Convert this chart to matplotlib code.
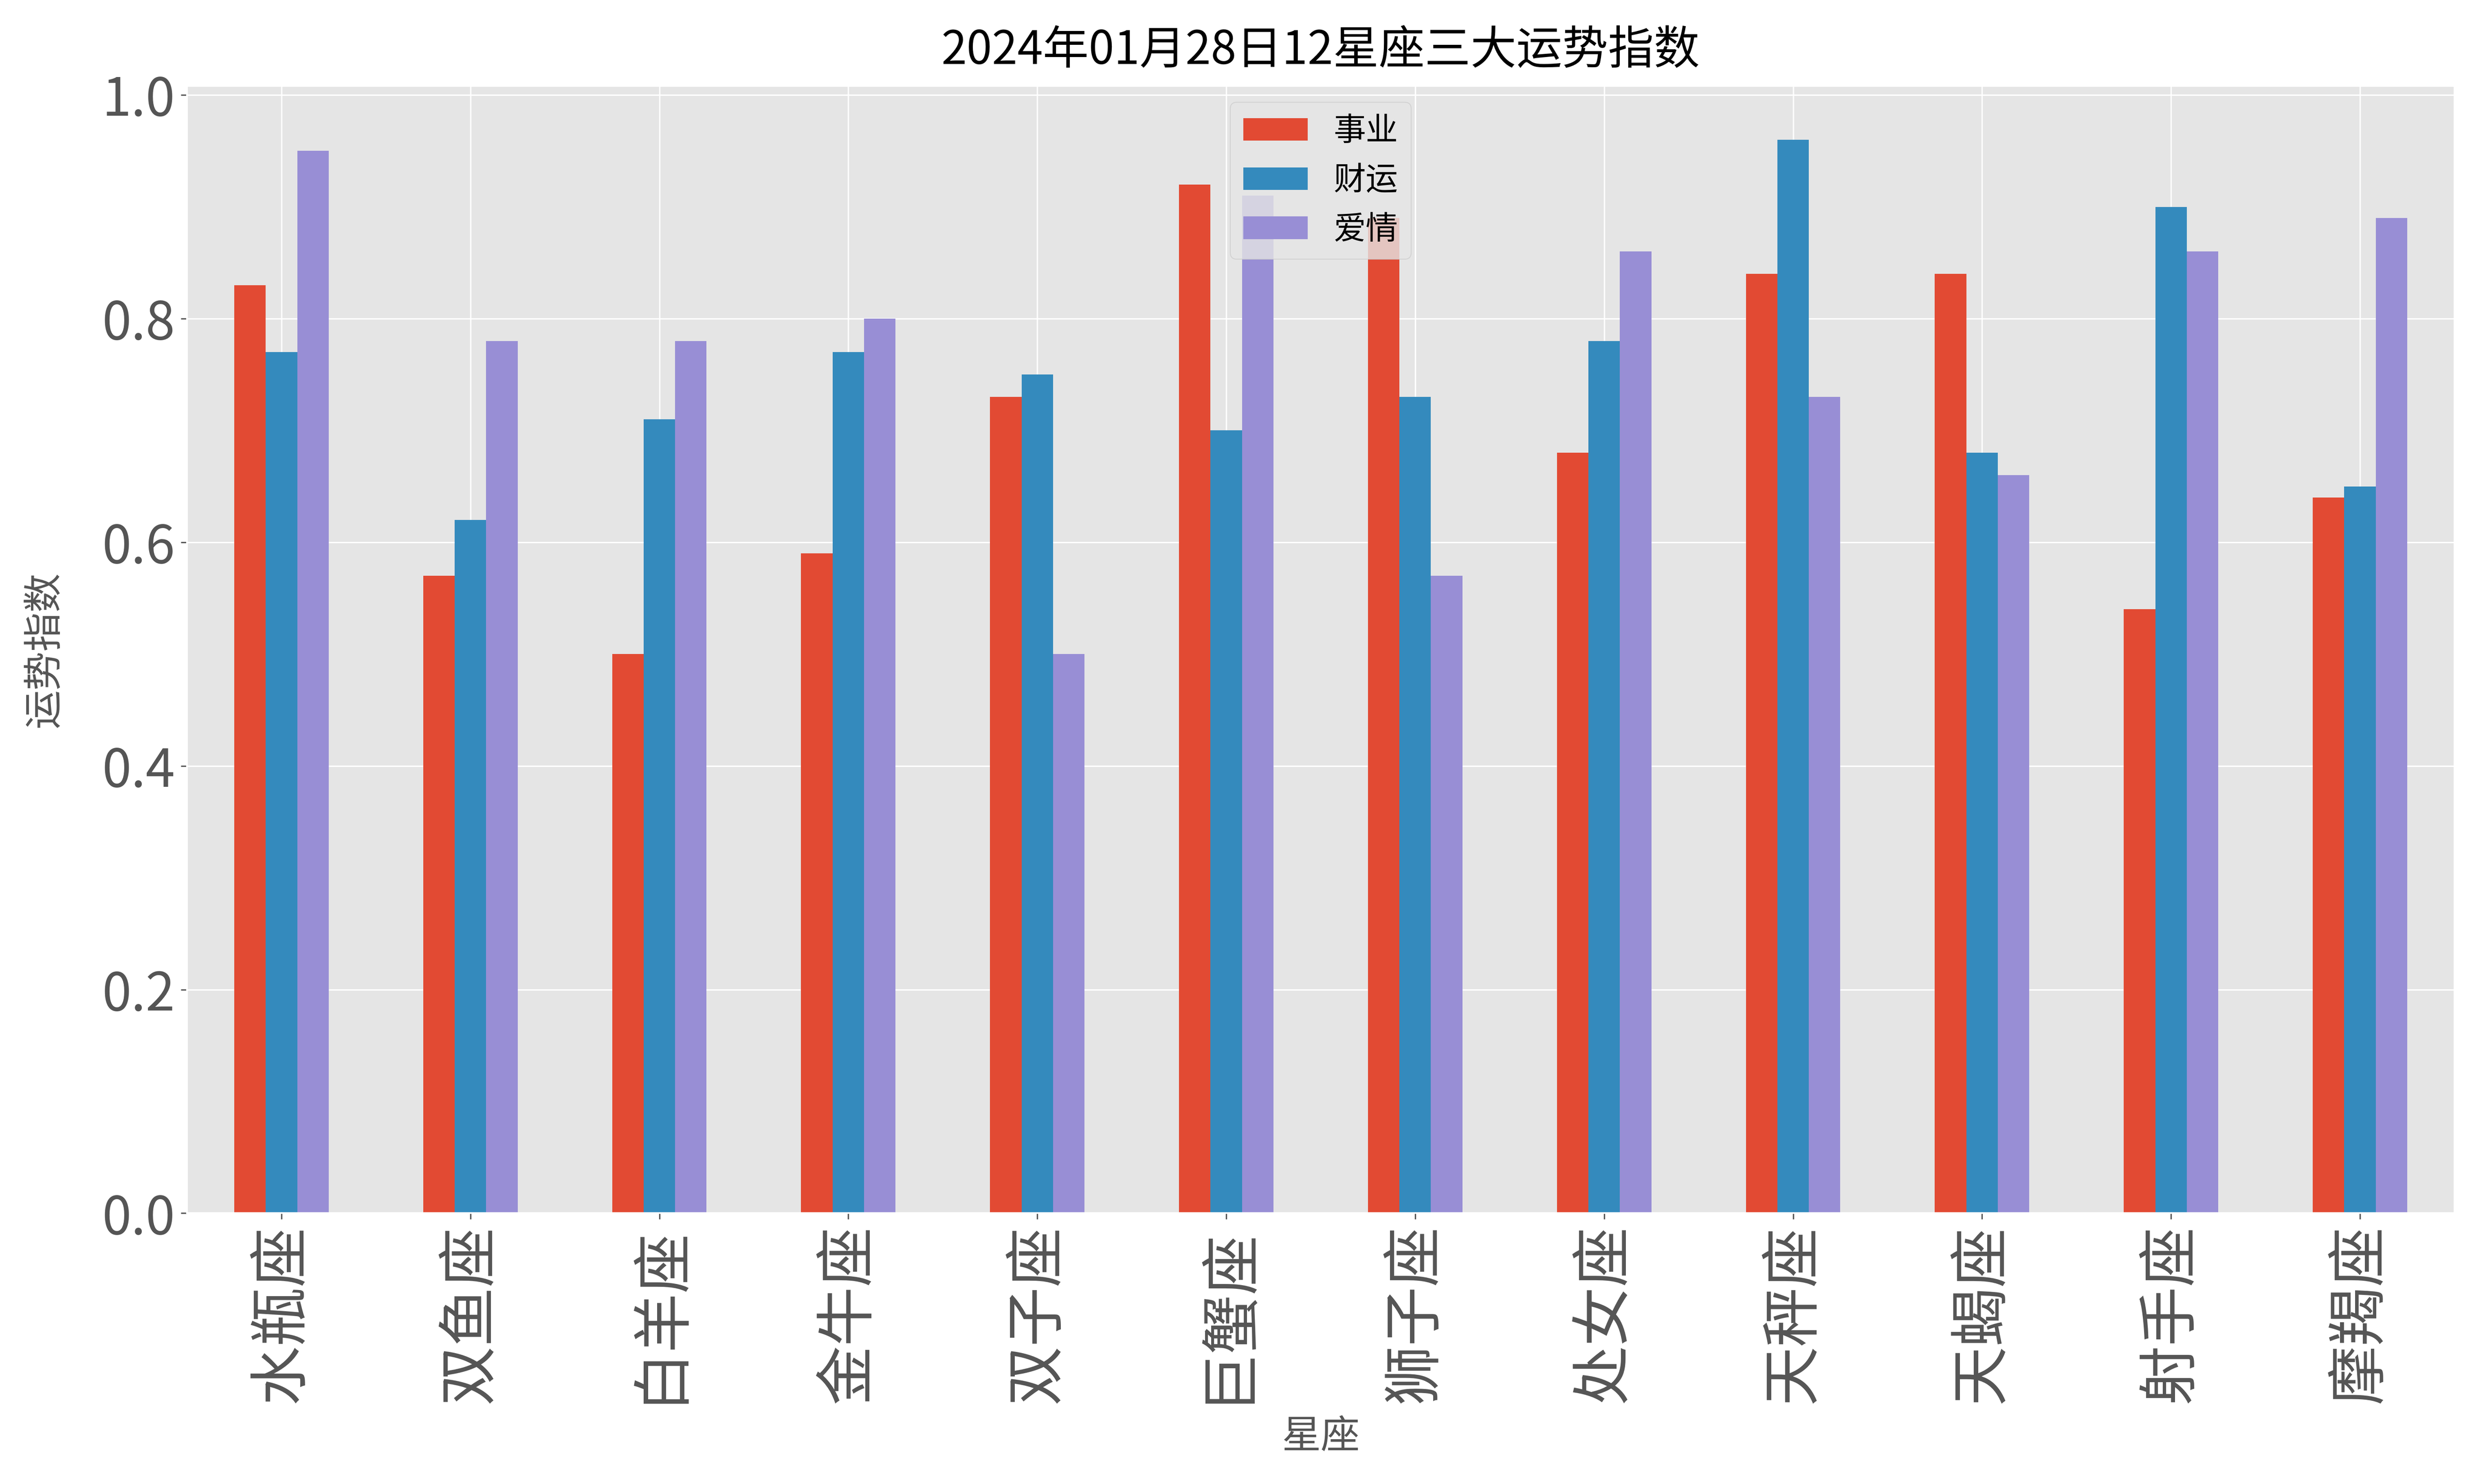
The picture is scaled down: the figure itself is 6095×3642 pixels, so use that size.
import pandas as pd
import matplotlib.pyplot as plt

plt.style.use('ggplot')
plt.rcParams['font.family'] = ['Noto Sans CJK SC', 'DejaVu Sans']
plt.rcParams['axes.unicode_minus'] = False

# 星座 & 三大运势指数
signs = ['水瓶座', '双鱼座', '白羊座', '金牛座', '双子座', '巨蟹座',
         '狮子座', '处女座', '天秤座', '天蝎座', '射手座', '摩羯座']
career = [0.83, 0.57, 0.50, 0.59, 0.73, 0.92, 0.89, 0.68, 0.84, 0.84, 0.54, 0.64]
wealth = [0.77, 0.62, 0.71, 0.77, 0.75, 0.70, 0.73, 0.78, 0.96, 0.68, 0.90, 0.65]
love = [0.95, 0.78, 0.78, 0.80, 0.50, 0.91, 0.57, 0.86, 0.73, 0.66, 0.86, 0.89]

df = pd.DataFrame({'事业': career, '财运': wealth, '爱情': love}, index=signs)

fig, ax = plt.subplots(figsize=(6095 / 300, 3642 / 300), dpi=300)
df.plot(kind='bar', ax=ax)
ax.tick_params(axis='x', labelsize=35)
ax.tick_params(axis='y', labelsize=31)

ax.set_title('2024年01月28日12星座三大运势指数', fontsize=27, color='black', pad=13)
ax.set_xlabel('星座', fontsize=23, labelpad=8)
ax.set_ylabel('运势指数', fontsize=23, labelpad=22)
ax.legend(loc='upper center', fontsize=19)

plt.subplots_adjust(left=0.0753, right=0.9885, top=0.942, bottom=0.1825)
plt.savefig('out.png', dpi=300)
